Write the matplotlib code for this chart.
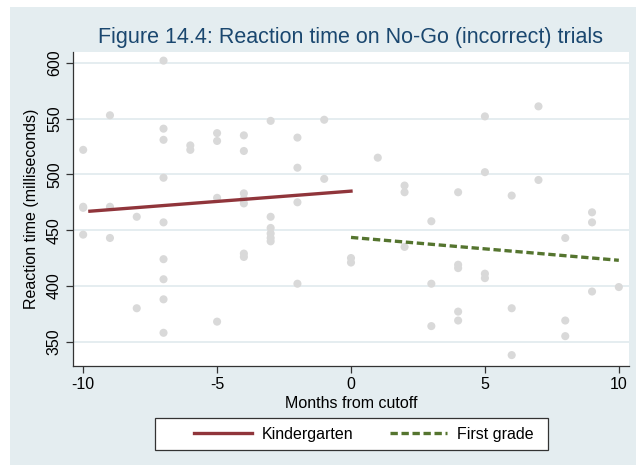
import matplotlib
matplotlib.use("Agg")
import matplotlib.pyplot as plt
from matplotlib.patches import Rectangle

plt.rcParams['font.family'] = ['Liberation Sans', 'DejaVu Sans']
plt.rcParams['axes.unicode_minus'] = False

# Puntos individuales (meses desde el corte, tiempo de reacción en ms)
months = [-10, -10, -10, -10,
          -9, -9, -9,
          -8, -8,
          -7, -7, -7, -7, -7, -7, -7, -7, -7,
          -6, -6,
          -5, -5, -5, -5,
          -4, -4, -4, -4, -4, -4, -4,
          -3, -3, -3, -3, -3, -3,
          -2, -2, -2, -2,
          -1, -1,
          0, 0,
          1,
          2, 2, 2,
          3, 3, 3,
          4, 4, 4, 4, 4,
          5, 5, 5, 5,
          6, 6, 6,
          7, 7,
          8, 8, 8,
          9, 9, 9,
          10]
rt = [522, 471, 446, 470,
      553, 471, 443,
      462, 380,
      602, 541, 531, 497, 457, 424, 406, 388, 358,
      526, 522,
      537, 530, 479, 368,
      535, 521, 483, 474, 429, 426, 478,
      548, 462, 452, 447, 443, 440,
      533, 506, 475, 402,
      549, 496,
      425, 421,
      515,
      490, 484, 435,
      458, 402, 364,
      484, 419, 416, 377, 369,
      552, 502, 411, 407,
      481, 380, 338,
      561, 495,
      443, 369, 355,
      466, 457, 395,
      399]

# Rectas ajustadas a cada lado del corte
kinder_x = [-9.75, 0]
kinder_y = [467, 485]
first_x = [0, 10]
first_y = [443.5, 423]

bg = '#e4edf0'
fig = plt.figure(figsize=(6.36, 4.65), dpi=100, facecolor='white')
fig.patches.append(Rectangle((10 / 636, 0), 1, 1 - 7 / 465, transform=fig.transFigure,
                             facecolor=bg, edgecolor='none', zorder=-10))

ax = fig.add_axes([73 / 636, 1 - 365.7 / 465, 556 / 636, 314 / 465])
ax.set_facecolor('white')

ax.scatter(months, rt, s=34, color='#d9d9d9', edgecolors='none', zorder=2)
k_line, = ax.plot(kinder_x, kinder_y, color='#90353b', lw=2.4, zorder=3)
f_line, = ax.plot(first_x, first_y, color='#55752f', lw=2.4, ls=(0, (2.2, 1.1)), zorder=3)

ax.set_xlim(-10.38, 10.38)
ax.set_ylim(328.5, 610)
ax.set_xticks([-10, -5, 0, 5, 10])
ax.set_yticks([350, 400, 450, 500, 550, 600])
ax.yaxis.grid(True, color='#e3ecef', lw=1.3)
ax.set_axisbelow(True)

for s in ['top', 'right']:
    ax.spines[s].set_visible(False)
for s in ['left', 'bottom']:
    ax.spines[s].set_color('#333333')
    ax.spines[s].set_linewidth(0.9)

ax.tick_params(axis='both', direction='out', length=5, width=0.9, color='#333333',
               labelsize=11.5, pad=3)
for lab in ax.get_yticklabels():
    lab.set_rotation(90)
    lab.set_va('center')

ax.set_xlabel('Months from cutoff', fontsize=11.5, labelpad=3)
ax.set_ylabel('Reaction time (milliseconds)', fontsize=11.5, labelpad=6)

fig.text(351 / 636, 1 - 37 / 465, 'Figure 14.4: Reaction time on No-Go (incorrect) trials',
         ha='center', va='center', fontsize=15.5, color='#1a476f')

# marco de la leyenda dibujado a mano
fig.patches.append(Rectangle((155 / 636, 1 - 450 / 465), 393 / 636, 32 / 465,
                             transform=fig.transFigure, facecolor='white',
                             edgecolor='#333333', lw=0.9, zorder=-5))
leg = fig.legend([k_line, f_line], ['Kindergarten', 'First grade'], loc='center',
                 bbox_to_anchor=(364 / 636, 1 - 434 / 465), ncol=2, fontsize=11.5,
                 frameon=False, handlelength=3.6, columnspacing=2.3, handletextpad=0.6)

fig.savefig('out.png', dpi=100, facecolor='white')
